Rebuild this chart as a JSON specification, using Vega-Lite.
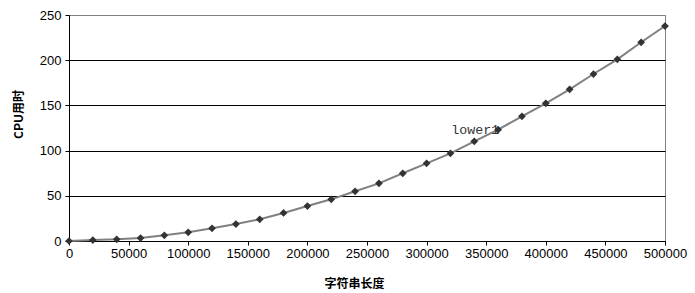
{
  "$schema": "https://vega.github.io/schema/vega-lite/v6.json",
  "autosize": {"type": "none"},
  "padding": {"left": 69, "top": 15, "right": 30, "bottom": 52},
  "width": 596,
  "height": 226,
  "background": "white",
  "config": {
    "view": {"stroke": "#808080", "strokeWidth": 1},
    "font": "Liberation Sans"
  },
  "data": {
    "values": [
      {"len": 0, "t": 0, "label": ""},
      {"len": 20000, "t": 1.1, "label": ""},
      {"len": 40000, "t": 1.8, "label": ""},
      {"len": 60000, "t": 3.3, "label": ""},
      {"len": 80000, "t": 6.3, "label": ""},
      {"len": 100000, "t": 9.6, "label": ""},
      {"len": 120000, "t": 14, "label": ""},
      {"len": 140000, "t": 18.8, "label": ""},
      {"len": 160000, "t": 24, "label": ""},
      {"len": 180000, "t": 31, "label": ""},
      {"len": 200000, "t": 38.7, "label": ""},
      {"len": 220000, "t": 46.1, "label": ""},
      {"len": 240000, "t": 55, "label": ""},
      {"len": 260000, "t": 63.8, "label": ""},
      {"len": 280000, "t": 74.9, "label": ""},
      {"len": 300000, "t": 85.9, "label": ""},
      {"len": 320000, "t": 97, "label": ""},
      {"len": 340000, "t": 110.3, "label": ""},
      {"len": 360000, "t": 123.2, "label": "lower1"},
      {"len": 380000, "t": 137.9, "label": ""},
      {"len": 400000, "t": 152.3, "label": ""},
      {"len": 420000, "t": 167.8, "label": ""},
      {"len": 440000, "t": 184.7, "label": ""},
      {"len": 460000, "t": 201, "label": ""},
      {"len": 480000, "t": 219.8, "label": ""},
      {"len": 500000, "t": 237.8, "label": ""}
    ]
  },
  "encoding": {
    "x": {
      "field": "len",
      "type": "quantitative",
      "scale": {"domain": [0, 500000], "nice": false, "zero": true},
      "axis": {
        "title": "字符串长度",
        "values": [0, 50000, 100000, 150000, 200000, 250000, 300000, 350000, 400000, 450000, 500000],
        "format": "d",
        "grid": false,
        "domainColor": "black",
        "domainWidth": 1,
        "tickColor": "black",
        "tickSize": 4,
        "tickWidth": 1,
        "labelFont": "Liberation Sans",
        "labelFontSize": 13,
        "labelColor": "black",
        "labelPadding": 2,
        "labelFlush": false,
        "labelOverlap": false,
        "titleFont": "Noto Sans CJK SC",
        "titleFontSize": 12,
        "titleFontWeight": "bold",
        "titleColor": "black",
        "titleX": 285,
        "titleY": 42,
        "titleAlign": "center",
        "titleBaseline": "middle"
      }
    },
    "y": {
      "field": "t",
      "type": "quantitative",
      "scale": {"domain": [0, 250], "nice": false},
      "axis": {
        "title": "CPU用时",
        "values": [0, 50, 100, 150, 200, 250],
        "grid": true,
        "gridColor": {"condition": {"test": "datum.value === 250", "value": "#808080"}, "value": "black"},
        "gridWidth": 1,
        "domainColor": "black",
        "domainWidth": 1,
        "ticks": true,
        "tickColor": "black",
        "tickSize": 4,
        "tickWidth": 1,
        "labelFont": "Liberation Sans",
        "labelFontSize": 13,
        "labelColor": "black",
        "labelPadding": 4,
        "labelFlush": false,
        "titleFont": "Noto Sans CJK SC",
        "titleFontSize": 12,
        "titleFontWeight": "bold",
        "titleColor": "black",
        "titleX": -51,
        "titleY": 99,
        "titleAlign": "center",
        "titleBaseline": "middle",
        "titleAngle": -90
      }
    }
  },
  "layer": [
    {
      "mark": {"type": "line", "color": "#808080", "strokeWidth": 2}
    },
    {
      "mark": {"type": "text", "align": "right", "baseline": "middle", "dx": 1, "font": "Liberation Mono", "fontSize": 13.3, "color": "#333333"},
      "encoding": {"text": {"field": "label"}}
    },
    {
      "mark": {"type": "point", "shape": "diamond", "filled": true, "color": "#333333", "size": 60, "opacity": 1}
    }
  ]
}
